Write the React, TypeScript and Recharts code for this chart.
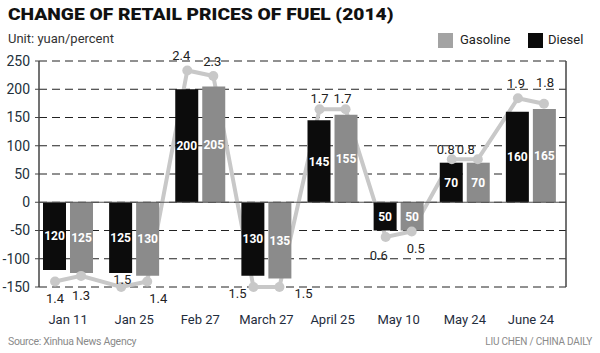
import React from 'react';
import { ComposedChart, Bar, Line, XAxis, YAxis, CartesianGrid, ReferenceLine, LabelList } from 'recharts';

const dates = ['Jan 11', 'Jan 25', 'Feb 27', 'March 27', 'April 25', 'May 10', 'May 24', 'June 24'];
const diesel = [-120, -125, 200, -130, 145, -50, 70, 160];
const gasoline = [-125, -130, 205, -135, 155, -50, 70, 165];
const dieselPct = [-1.4, -1.5, 2.4, -1.5, 1.7, -0.6, 0.8, 1.9];
const gasolinePct = [-1.3, -1.4, 2.3, -1.5, 1.7, -0.5, 0.8, 1.8];
const yuanTicks = [-150, -100, -50, 0, 50, 100, 150, 200, 250];
const pctTicks = [-1.5, -1, -0.5, 0, 0.5, 1, 1.5, 2, 2.5];

// layout
const BAR = 23;
const GAP = 3;
const BAND = 66.1;
const PAD = { left: -4, right: 2 };
const pairOffset = (BAR + GAP) / 2 / BAND;
// label nudges for the percent labels, [dx, dy] per point (diesel, gasoline, ...)
const pctLabelNudge = [
  [0, 17], [0, 20], [1, -8], [11, 17], [-6, -15], [-1, -14], [-16, 6], [24, 6],
  [0, -11], [-3, -11], [-7, 18], [4, 17], [-6, -10], [-12, -10], [-2, -15], [1, -21],
];

const barData = dates.map((d, i) => ({ date: d, diesel: diesel[i], gasoline: gasoline[i] }));
const lineData = dates.flatMap((d, i) => [
  { x: i + 0.5 - pairOffset, pct: dieselPct[i] },
  { x: i + 0.5 + pairOffset, pct: gasolinePct[i] },
]);

const FONT = 'Roboto, "Noto Sans", sans-serif';
const TICK = { fill: '#22303c', fontSize: 14, fontFamily: FONT };

const renderPctLabel = (p: any) => {
  const [dx, dy] = pctLabelNudge[p.index] || [0, 0];
  return (
    <text
      key={`pl-${p.index}`}
      x={p.x + dx}
      y={p.y + dy}
      textAnchor="middle"
      dominantBaseline="central"
      fontSize={13}
      fontFamily={FONT}
      fill="#222"
    >
      {Math.abs(p.value).toFixed(1)}
    </text>
  );
};

const DateTick = (p: any) => (
  <text x={p.x} y={319} textAnchor="middle" dominantBaseline="central" fontSize={13} fontFamily={FONT} fill="#1f2d3d">
    {p.payload.value}
  </text>
);

export default function App() {
  return (
    <div style={{ position: 'absolute', left: 0, top: 0, width: 600, height: 353, background: '#fff', fontFamily: FONT }}>
      <div
        style={{
          position: 'absolute', left: 8, top: 4, fontSize: 17, fontWeight: 900, lineHeight: '20px', color: '#111',
          whiteSpace: 'nowrap', transform: 'scaleX(1.13)', transformOrigin: '0 0',
        }}
      >
        CHANGE OF RETAIL PRICES OF FUEL (2014)
      </div>
      <div style={{ position: 'absolute', left: 8, top: 31, fontSize: 13, lineHeight: '16px', color: '#333' }}>
        Unit: yuan/percent
      </div>
      <div style={{ position: 'absolute', left: 438, top: 33, width: 15, height: 15, background: '#a3a3a3' }} />
      <div style={{ position: 'absolute', left: 460, top: 32, fontSize: 13, lineHeight: '16px', color: '#222' }}>Gasoline</div>
      <div style={{ position: 'absolute', left: 528, top: 33, width: 15, height: 15, background: '#0a0a0a' }} />
      <div style={{ position: 'absolute', left: 548, top: 32, fontSize: 13, lineHeight: '16px', color: '#222' }}>Diesel</div>

      <ComposedChart width={600} height={353} data={barData} margin={{ top: 61, right: 0, bottom: 0, left: 0 }}>
        <CartesianGrid yAxisId="yuan" vertical={false} stroke="#222" strokeDasharray="8 5" />
        <XAxis
          dataKey="date"
          xAxisId="cat"
          height={66}
          axisLine={false}
          tickLine={false}
          interval={0}
          padding={PAD}
          tick={<DateTick />}
        />
        <XAxis xAxisId="pct" dataKey="x" type="number" domain={[0, 8]} hide height={0} padding={PAD} />
        <YAxis
          yAxisId="yuan"
          orientation="left"
          width={39}
          domain={[-150, 250]}
          ticks={yuanTicks}
          interval={0}
          tick={TICK}
          tickSize={4}
          tickMargin={5}
          axisLine={{ stroke: '#444', strokeWidth: 1.5 }}
          tickLine={{ stroke: '#444' }}
        />
        <YAxis
          yAxisId="pctAxis"
          orientation="right"
          width={34}
          domain={[-1.5, 2.5]}
          ticks={pctTicks}
          interval={0}
          tick={TICK}
          tickFormatter={(v: number) => v.toFixed(1)}
          tickSize={4}
          tickMargin={3}
          axisLine={{ stroke: '#444', strokeWidth: 1.5 }}
          tickLine={{ stroke: '#444' }}
        />
        <YAxis yAxisId="pctLine" orientation="right" hide width={0} domain={[-1.5, 2.57]} />
        <ReferenceLine yAxisId="yuan" xAxisId="cat" y={0} stroke="#555" strokeWidth={1.2} />
        <Line
          data={lineData}
          xAxisId="pct"
          yAxisId="pctLine"
          dataKey="pct"
          type="linear"
          stroke="#c8c8c8"
          strokeWidth={4}
          dot={{ r: 5, fill: '#c8c8c8', stroke: '#c8c8c8', strokeWidth: 0 }}
          activeDot={false}
          label={renderPctLabel}
          zIndex={150}
          isAnimationActive={false}
        />
        <Bar xAxisId="cat" yAxisId="yuan" dataKey="diesel" fill="#0c0c0c" barSize={BAR} zIndex={300} isAnimationActive={false}>
          <LabelList dataKey="diesel" position="center" formatter={(v: any) => Math.abs(v)} fill="#fff" fontSize={12} fontWeight={700} fontFamily={FONT} />
        </Bar>
        <Bar xAxisId="cat" yAxisId="yuan" dataKey="gasoline" fill="#8b8b8b" barSize={BAR} zIndex={300} isAnimationActive={false}>
          <LabelList dataKey="gasoline" position="center" formatter={(v: any) => Math.abs(v)} fill="#fff" fontSize={12} fontWeight={700} fontFamily={FONT} />
        </Bar>
      </ComposedChart>

      <div style={{ position: 'absolute', left: 8, top: 335, fontSize: 10.5, lineHeight: '14px', color: '#8a8a8a', letterSpacing: -0.3 }}>
        Source: Xinhua News Agency
      </div>
      <div style={{ position: 'absolute', right: 8, top: 335, fontSize: 10, lineHeight: '14px', color: '#8a8a8a', letterSpacing: -0.2 }}>
        LIU CHEN / CHINA DAILY
      </div>
    </div>
  );
}
